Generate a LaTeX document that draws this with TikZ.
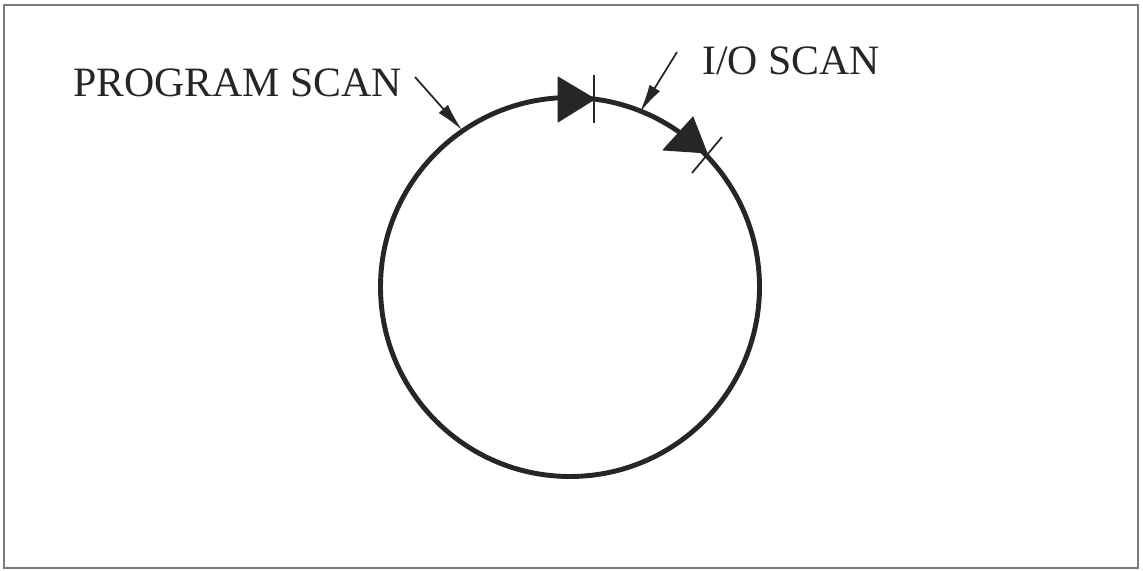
\documentclass[tikz,border=0pt]{standalone}
\usepackage{fontspec}
\setmainfont{Liberation Serif}
\usetikzlibrary{arrows.meta}
\definecolor{ink}{HTML}{262626}
\definecolor{framegray}{HTML}{7A7A7A}
\tikzset{
  lbl/.style={inner sep=0pt, anchor=base west, text=ink, font=\fontsize{23.8}{28}\selectfont},
  ring/.style={draw=ink, line width=2.8pt},
  tri/.style={fill=ink, draw=ink, line width=0.5pt, line join=round},
  tick/.style={draw=ink, line width=1pt},
  leader/.style={draw=ink, line width=1pt, -{Latex[length=16pt,width=7pt]}},
}
\begin{document}
\begin{tikzpicture}[x=0.02cm,y=-0.02cm]
\useasboundingbox (0,0) rectangle (1143,571);
\draw[framegray, line width=1.2pt] (4,5) rectangle (1138,568);
\node[ring, circle, minimum size=379*0.02cm, inner sep=0pt] (cyc) at (570,287) {};
% direction markers on the circle
\coordinate (m1) at (595,99);
\coordinate (m2) at (707,153);
\fill[tri] (558,77) -- (558,122) -- (m1) -- cycle;
\draw[tick] (594,75) -- (594,123);
\fill[tri] (693,117) -- (663,150) -- (m2) -- cycle;
\draw[tick] (722,137) -- (692,173);
% labels
\node[lbl] (prog) at (73,97) {PROGRAM SCAN};
\node[lbl] (io) at (702,75) {I/O SCAN};
\coordinate (p1) at (415,77);
\coordinate (p2) at (462,130);
\coordinate (q1) at (677,52);
\coordinate (q2) at (640,112);
\draw[leader] (p1) -- (p2);
\draw[leader] (q1) -- (q2);
\end{tikzpicture}
\end{document}
